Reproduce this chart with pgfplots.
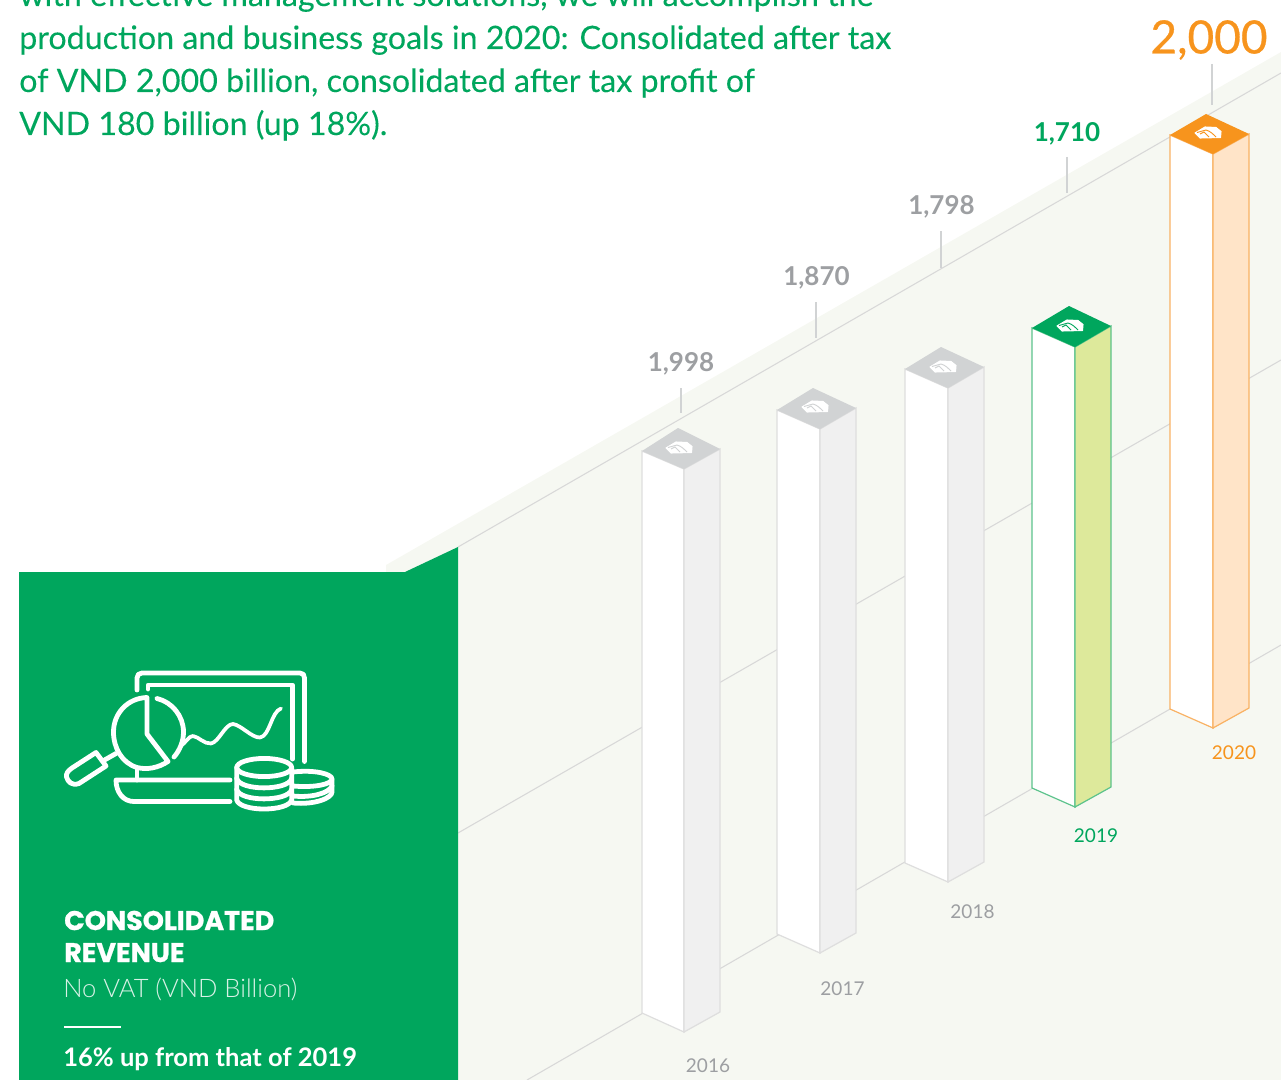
\documentclass[border=0pt]{standalone}
\usepackage{fontspec}
\setmainfont{Lato}
\newfontfamily\headfont{Poppins}[BoldFeatures={FakeBold=1.0}]
\newfontfamily\lightfont{Lato Light}
\newfontfamily\parafont{Lato}[FakeBold=0.15]
\newfontfamily\medfont{Lato}[FakeBold=0.6]
\usepackage{pgfplots}
\pgfplotsset{compat=1.18}
\definecolor{gr}{HTML}{00A65D}
\definecolor{bgc}{HTML}{F6F8F2}
\definecolor{ln}{HTML}{D8D8D8}
\definecolor{topg}{HTML}{D1D3D4}
\definecolor{sideg}{HTML}{F0F0F0}
\definecolor{edgeg}{HTML}{DEDEDE}
\definecolor{txtg}{HTML}{9D9FA2}
\definecolor{or}{HTML}{F7941D}
\definecolor{sideo}{HTML}{FFE4C8}
\definecolor{edgeo}{HTML}{F9B264}
\definecolor{sidel}{HTML}{DDE99B}
\definecolor{edgel}{HTML}{5CC38C}
\newcommand{\fs}[1]{\fontsize{#1}{#1}\selectfont}
\newcommand{\gem}[3]{%
  \filldraw[white,line width=0.8pt,line join=round] ({#1-13},{#2+0}) -- ({#1-3},{#2-6}) -- ({#1+8},{#2-5.5}) -- ({#1+13},{#2-1.5}) -- ({#1+12.5},{#2+4.5}) -- ({#1-8},{#2+5}) -- cycle;
  \draw[#3,line width=0.7pt] ({#1-11},{#2-0.5}) -- ({#1-2},{#2-3}) .. controls ({#1+2},{#2-2}) and ({#1+5},{#2+1}) .. ({#1+8},{#2+4});
  \draw[#3,line width=0.7pt] ({#1-8},{#2+1}) -- ({#1-4},{#2-1}) -- ({#1+1},{#2+4});
}
\begin{document}
\begin{tikzpicture}
\path[use as bounding box,clip] (0,0) rectangle (960.75pt,810pt);
\begin{axis}[at={(0pt,0pt)},anchor=south west,width=960.75pt,height=810pt,scale only axis,
  xmin=0,xmax=1281,ymin=0,ymax=1080,y dir=reverse,hide axis,clip=true]
% ground
\addplot[fill=bgc,draw=none] coordinates {(386,565)(1281,52)(1281,1080)(386,1080)} -- cycle;
% grid lines of the floor
\addplot[ln,line width=0.8pt] coordinates {(458,547)(1281,73)};
\addplot[ln,line width=0.8pt] coordinates {(458,833)(1281,360)};
\addplot[ln,line width=0.8pt] coordinates {(527,1080)(1281,645)};
% panel
\addplot[fill=gr,draw=none] coordinates {(19,572)(405,572)(458,547)(458,1080)(19,1080)} -- cycle;
% leaders
\addplot[topg,line width=1.2pt] coordinates {(681,388)(681,413)};
\addplot[topg,line width=1.2pt] coordinates {(816,302)(816,338)};
\addplot[topg,line width=1.2pt] coordinates {(941,231)(941,268)};
\addplot[topg,line width=1.2pt] coordinates {(1067,157)(1067,193)};
\addplot[topg,line width=1.2pt] coordinates {(1212,64)(1212,105)};
% 2016
\addplot[fill=white,draw=edgeg,line width=0.9pt] coordinates {(642,451)(684,469)(684,1032)(642,1013)} -- cycle;
\addplot[fill=sideg,draw=edgeg,line width=0.9pt] coordinates {(684,469)(720,449)(720,1012)(684,1032)} -- cycle;
\addplot[fill=topg,draw=none] coordinates {(642,451)(678,428)(720,449)(684,469)} -- cycle;
% 2017
\addplot[fill=white,draw=edgeg,line width=0.9pt] coordinates {(777,410)(820,429)(820,953)(777,934)} -- cycle;
\addplot[fill=sideg,draw=edgeg,line width=0.9pt] coordinates {(820,429)(856,408)(856,933)(820,953)} -- cycle;
\addplot[fill=topg,draw=none] coordinates {(777,410)(813,388)(856,408)(820,429)} -- cycle;
% 2018
\addplot[fill=white,draw=edgeg,line width=0.9pt] coordinates {(905,369)(948,388)(948,882)(905,863)} -- cycle;
\addplot[fill=sideg,draw=edgeg,line width=0.9pt] coordinates {(948,388)(984,367)(984,862)(948,882)} -- cycle;
\addplot[fill=topg,draw=none] coordinates {(905,369)(941,347)(984,367)(948,388)} -- cycle;
% 2019
\addplot[fill=white,draw=edgel,line width=0.9pt] coordinates {(1032,328)(1075,347)(1075,807)(1032,788)} -- cycle;
\addplot[fill=sidel,draw=edgel,line width=0.9pt] coordinates {(1075,347)(1111,326)(1111,787)(1075,807)} -- cycle;
\addplot[fill=gr,draw=none] coordinates {(1032,328)(1069,306)(1111,326)(1075,347)} -- cycle;
% 2020
\addplot[fill=white,draw=edgeo,line width=0.9pt] coordinates {(1170,135)(1213,154)(1213,728)(1170,709)} -- cycle;
\addplot[fill=sideo,draw=edgeo,line width=0.9pt] coordinates {(1213,154)(1249,134)(1249,708)(1213,728)} -- cycle;
\addplot[fill=or,draw=none] coordinates {(1170,135)(1206,114)(1249,134)(1213,154)} -- cycle;
\gem{679}{448}{topg}
\gem{815}{407}{topg}
\gem{943}{367}{topg}
\gem{1070}{326}{gr}
\gem{1208}{133}{or}
% value labels
\node[anchor=base,inner sep=0pt,text=txtg,font=\bfseries\fs{19.5}] at (681,371.5) {1,998};
\node[anchor=base,inner sep=0pt,text=txtg,font=\bfseries\fs{19.5}] at (816.5,285.5) {1,870};
\node[anchor=base,inner sep=0pt,text=txtg,font=\bfseries\fs{19.5}] at (941.5,215) {1,798};
\node[anchor=base,inner sep=0pt,text=gr,font=\bfseries\fs{19.5}] at (1067,142) {1,710};
\node[anchor=base,inner sep=0pt,text=or,font=\medfont\fs{34.5}] at (1209,53.5) {2,000};
% years
\node[anchor=base,inner sep=0pt,text=txtg,font=\fs{14.25}] at (708,1072) {2016};
\node[anchor=base,inner sep=0pt,text=txtg,font=\fs{14.25}] at (842.5,995) {2017};
\node[anchor=base,inner sep=0pt,text=txtg,font=\fs{14.25}] at (972.5,918) {2018};
\node[anchor=base,inner sep=0pt,text=gr,font=\fs{14.25}] at (1096,842) {2019};
\node[anchor=base,inner sep=0pt,text=or,font=\fs{14.25}] at (1234,759) {2020};
% paragraph
\node[anchor=base west,inner sep=0pt,text=gr,font=\parafont\fs{24.15}] at (19,6) {with effective management solutions, we will accomplish the};
\node[anchor=base west,inner sep=0pt,text=gr,font=\parafont\fs{24.15}] at (19,49) {production and business goals in 2020: Consolidated after tax};
\node[anchor=base west,inner sep=0pt,text=gr,font=\parafont\fs{24.15}] at (19,92) {of VND 2,000 billion, consolidated after tax profit of};
\node[anchor=base west,inner sep=0pt,text=gr,font=\parafont\fs{24.15}] at (19,135) {VND 180 billion (up 18\%).};
% panel text
\node[anchor=base west,inner sep=0pt,text=white,font=\headfont\bfseries\fs{20.2}] at (64,930) {CONSOLIDATED};
\node[anchor=base west,inner sep=0pt,text=white,font=\headfont\bfseries\fs{20.2}] at (64,962) {REVENUE};
\node[anchor=base west,inner sep=0pt,text=white!85!gr,font=\lightfont\fs{19.15}] at (63,997) {No VAT (VND Billion)};
\addplot[white,line width=1.5pt] coordinates {(64,1027)(121,1027)};
\node[anchor=base west,inner sep=0pt,text=white,font=\bfseries\fs{19.15}] at (63,1066) {16\% up from that of 2019};
% icon
\begin{scope}[white,line width=3.6pt,line cap=round,line join=round]
\draw (137,690) -- (137,678) .. controls (137,675) and (139,673) .. (142,673) -- (300,673) .. controls (303,673) and (304.5,675) .. (304.5,678) -- (304.5,761.5);
\draw (148,689) -- (148,685) -- (292.5,685) -- (292.5,759);
% lens
\draw (168,761.5) .. controls (158,768) and (147,770) .. (137,767.5) .. controls (122,763) and (113.5,748) .. (113.5,732) .. controls (113.5,713) and (128,698) .. (147,697.5) -- (147,734) -- (168,761.5);
\draw (157,698.5) .. controls (172,702) and (183.5,716) .. (183.5,732) .. controls (183.5,741) and (180,750) .. (174,757);
% handle
\draw (116,753.5) -- (104.5,760);
\draw (96,752.5) -- (106,766) -- (79,783.5) .. controls (72,786) and (68,782) .. (66.5,777) .. controls (66,773) and (68,771) .. (72,768) -- cycle;
% chart line
\draw[line width=2.8pt] (181,746) .. controls (186,742) and (189,736) .. (193,736) .. controls (199,737) and (204,744) .. (211,743.5) .. controls (219,742) and (225,724) .. (233,724) .. controls (241,725) and (252,738) .. (260,737.5) .. controls (270,736) and (271,712) .. (281,708.5);
% base
\draw (137,768) -- (137,780);
\draw (230,780) -- (116,780) .. controls (116,792) and (123,801.5) .. (134,801.5) -- (230,801.5);
% coins
\draw (264.2,767.5) ellipse [x radius=20.6pt,y radius=6.8pt];
\draw (236.7,767.5) -- (236.7,800) .. controls (240,812) and (288,812) .. (291.7,800) -- (291.7,767.5);
\draw (236.7,778.5) .. controls (240,791) and (288,791) .. (291.7,778.5);
\draw (236.7,789.5) .. controls (240,802) and (288,802) .. (291.7,789.5);
\draw (293,772) .. controls (315,769.5) and (332,774) .. (332,779) .. controls (332,784) and (315,788) .. (293,786);
\draw (332,779) -- (332,792) .. controls (332,798) and (315,805) .. (293,803);
\draw (293,796) .. controls (312,798) and (329,793) .. (332,786);
\end{scope}
\end{axis}
\end{tikzpicture}
\end{document}
